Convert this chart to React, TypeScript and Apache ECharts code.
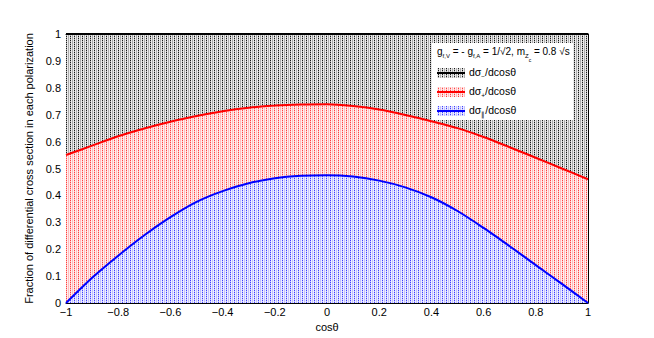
import React, { useEffect, useRef } from 'react';
import * as echarts from 'echarts';

// cos(theta) sample points
const cosTheta = [-1, -0.9, -0.8, -0.7, -0.6, -0.5, -0.4, -0.3, -0.2, -0.1, 0, 0.1, 0.2, 0.3, 0.4, 0.5, 0.6, 0.7, 0.8, 0.9, 1];
// upper edge of the || polarization band (blue curve)
const curveL = [0, 0.094, 0.176, 0.252, 0.319, 0.376, 0.416, 0.445, 0.464, 0.473, 0.475, 0.47, 0.455, 0.43, 0.393, 0.342, 0.279, 0.211, 0.141, 0.071, 0];
// upper edge of the + polarization band (red curve)
const curvePlus = [0.55, 0.585, 0.62, 0.649, 0.674, 0.695, 0.713, 0.726, 0.734, 0.738, 0.739, 0.732, 0.719, 0.699, 0.676, 0.65, 0.617, 0.579, 0.54, 0.5, 0.46];
// upper edge of the - polarization band (black curve, total)
const curveMinus = [1, 1, 1, 1, 1, 1, 1, 1, 1, 1, 1, 1, 1, 1, 1, 1, 1, 1, 1, 1, 1];

const xTickLabels = ['−1', '−0.8', '−0.6', '−0.4', '−0.2', '0', '0.2', '0.4', '0.6', '0.8', '1'];
const yTickLabels = ['0', '0.1', '0.2', '0.3', '0.4', '0.5', '0.6', '0.7', '0.8', '0.9', '1'];

const FONT = "'Liberation Sans', Arial, Helvetica, sans-serif";

function makePattern(rgb: number[], dotT: number, stripeT: number, bgT: number) {
  const c = document.createElement('canvas');
  c.width = 4;
  c.height = 4;
  const ctx = c.getContext('2d')!;
  const col = (t: number) =>
    `rgb(${Math.round(255 + (rgb[0] - 255) * t)},${Math.round(255 + (rgb[1] - 255) * t)},${Math.round(255 + (rgb[2] - 255) * t)})`;
  for (let y = 0; y < 4; y++) {
    for (let x = 0; x < 4; x++) {
      let t = bgT;
      if (x === 2 && y % 2 === 0) t = dotT;
      else if (x === 0 || x === 2) t = stripeT;
      ctx.fillStyle = col(t);
      ctx.fillRect(x, y, 1, 1);
    }
  }
  return { image: c.toDataURL(), repeat: 'repeat', imageWidth: 4, imageHeight: 4 };
}

export default function App() {
  const ref = useRef<HTMLDivElement>(null);
  useEffect(() => {
    if (!ref.current) return;
    const chart = echarts.init(ref.current, undefined, { renderer: 'svg' });
    const patBlack = makePattern([0, 0, 0], 0.9, 0.32, 0.08);
    const patRed = makePattern([255, 0, 0], 0.75, 0.26, 0.07);
    const patBlue = makePattern([0, 0, 255], 0.75, 0.24, 0.07);

    const mk = (arr: number[]) => cosTheta.map((x, i) => [x, arr[i]]);
    const rich = {
      n: { fontSize: 10.5, lineHeight: 13, verticalAlign: 'top', fontFamily: FONT, fill: '#000' },
      s: { fontSize: 6.5, lineHeight: 8, padding: [7, 0, 0, 0], verticalAlign: 'top', fontFamily: FONT, fill: '#000' },
      ss: { fontSize: 5, lineHeight: 6, padding: [11, 0, 0, 0], verticalAlign: 'top', fontFamily: FONT, fill: '#000' },
    };
    const richHead = {
      n: { ...rich.n, fontSize: 10 },
      s: { ...rich.s, fontSize: 6 },
      ss: rich.ss,
    };

    const xTick = { inside: true, length: 8, lineStyle: { color: '#000', width: 1 } };
    const xMinor = { show: true, splitNumber: 5, length: 4, lineStyle: { color: '#000', width: 1 } };
    const yTick = { inside: true, length: 15, lineStyle: { color: '#000', width: 1 } };
    const yMinor = { show: true, splitNumber: 5, length: 7.5, lineStyle: { color: '#000', width: 1 } };

    const legendEntries = [
      { label: '{n|dσ}{s|−}{n|/dcosθ}', color: '#000000', pat: patBlack },
      { label: '{n|dσ}{s|+}{n|/dcosθ}', color: '#ff0000', pat: patRed },
      { label: '{n|dσ}{s|∥}{n|/dcosθ}', color: '#0000ff', pat: patBlue },
    ];
    const legendGraphics: any[] = [
      { type: 'rect', shape: { x: 432, y: 43, width: 141, height: 77 }, style: { fill: '#fff' }, z: 100 },
      {
        type: 'text',
        x: 437,
        y: 46,
        z: 101,
        style: {
          text: '{n|g}{s|f,V}{n| = - g}{s|f,A}{n| = 1/√2, m}{s|Z}{ss|c}{n| = 0.8 √s}',
          rich: richHead,
          verticalAlign: 'top',
        },
      },
    ];
    legendEntries.forEach((e, i) => {
      const cy = 73 + i * 19;
      legendGraphics.push(
        { type: 'rect', shape: { x: 437, y: cy - 5, width: 28, height: 10 }, style: { fill: e.pat }, z: 101 },
        { type: 'line', shape: { x1: 437, y1: cy, x2: 465, y2: cy }, style: { stroke: e.color, lineWidth: 2 }, z: 102 },
        { type: 'text', x: 469, y: cy - 7, z: 102, style: { text: e.label, rich, verticalAlign: 'top' } }
      );
    });

    const baseX = {
      type: 'value',
      min: -1,
      max: 1,
      interval: 0.2,
      axisLine: { show: true, onZero: false, lineStyle: { color: '#000', width: 1 } },
      axisTick: xTick,
      minorTick: xMinor,
      splitLine: { show: false },
    };
    const baseY = {
      type: 'value',
      min: 0,
      max: 1,
      interval: 0.1,
      axisLine: { show: true, onZero: false, lineStyle: { color: '#000', width: 1 } },
      axisTick: yTick,
      minorTick: yMinor,
      splitLine: { show: false },
    };

    chart.setOption({
      animation: false,
      backgroundColor: '#fff',
      grid: { left: 66, right: 66, top: 34, bottom: 35, containLabel: false },
      xAxis: [
        {
          ...baseX,
          position: 'bottom',
          axisLabel: {
            color: '#000',
            fontSize: 11,
            fontFamily: FONT,
            margin: 3,
            formatter: (v: number) => xTickLabels[Math.round((v + 1) / 0.2)] ?? '',
          },
          name: 'cosθ',
          nameLocation: 'middle',
          nameGap: 15,
          nameTextStyle: { color: '#000', fontSize: 11, fontFamily: FONT, verticalAlign: 'top' },
        },
        { ...baseX, position: 'top', axisLabel: { show: false } },
      ],
      yAxis: [
        {
          ...baseY,
          position: 'left',
          axisLabel: {
            color: '#000',
            fontSize: 11,
            fontFamily: FONT,
            margin: 5,
            formatter: (v: number) => yTickLabels[Math.round(v / 0.1)] ?? '',
          },
          name: 'Fraction of differential cross section in each polarization',
          nameLocation: 'middle',
          nameGap: 23,
          nameRotate: 90,
          nameTextStyle: { color: '#000', fontSize: 11, fontFamily: FONT },
        },
        { ...baseY, position: 'right', axisLabel: { show: false } },
      ],
      series: [
        {
          name: 'dσ-/dcosθ',
          type: 'line',
          data: mk(curveMinus),
          symbol: 'none',
          z: 2,
          lineStyle: { color: '#000000', width: 2 },
          areaStyle: { color: patBlack, opacity: 1 },
        },
        {
          name: 'dσ+/dcosθ',
          type: 'line',
          data: mk(curvePlus),
          smooth: 0.3,
          symbol: 'none',
          z: 3,
          lineStyle: { color: '#ff0000', width: 2 },
          areaStyle: { color: patRed, opacity: 1 },
        },
        {
          name: 'dσ∥/dcosθ',
          type: 'line',
          data: mk(curveL),
          smooth: 0.3,
          symbol: 'none',
          z: 4,
          lineStyle: { color: '#0000ff', width: 2 },
          areaStyle: { color: patBlue, opacity: 1 },
        },
      ],
      graphic: legendGraphics,
    });
    return () => chart.dispose();
  }, []);
  return <div ref={ref} style={{ position: 'fixed', left: 0, top: 0, width: 654, height: 338 }} />;
}
